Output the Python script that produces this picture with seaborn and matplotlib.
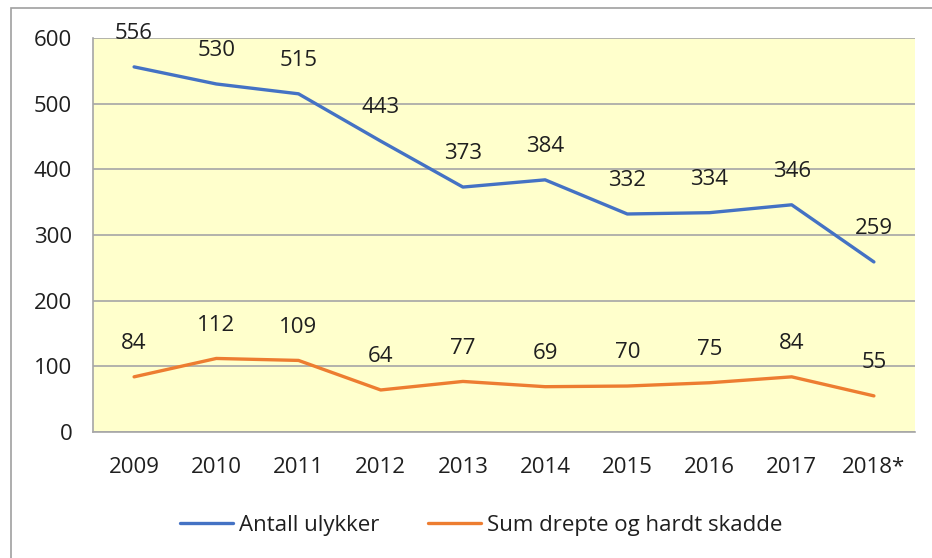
import matplotlib
matplotlib.use("Agg")
import matplotlib.pyplot as plt
import seaborn as sns
import pandas as pd
from matplotlib.patches import Rectangle
from matplotlib.ticker import FixedLocator

years = ["2009", "2010", "2011", "2012", "2013", "2014", "2015", "2016", "2017", "2018*"]
ulykker = [556, 530, 515, 443, 373, 384, 332, 334, 346, 259]
drepte_skadde = [84, 112, 109, 64, 77, 69, 70, 75, 84, 55]
series_names = ["Antall ulykker", "Sum drepte og hardt skadde"]
colors = ["#4472C4", "#ED7D31"]

df = pd.DataFrame({
    "pos": list(range(len(years))) * 2,
    "value": ulykker + drepte_skadde,
    "serie": [series_names[0]] * len(years) + [series_names[1]] * len(years),
})

sns.set_style("white")
plt.rcParams["font.family"] = ["Open Sans", "DejaVu Sans"]
text_col = "#1F1F1F"
grid_col = "#A6A6A6"
fs = 16

fig = plt.figure(figsize=(9.32, 5.58), dpi=100)
ax = fig.add_axes([93 / 932, 1 - 432 / 558, (915 - 93) / 932, (432 - 38) / 558])

# outer chart frame
fig.patches.append(Rectangle((11 / 932, -0.1), 1.0, 1 - 8 / 558 + 0.1,
                             transform=fig.transFigure, fill=False,
                             edgecolor="#A0A0A0", linewidth=1.2))

ax.set_facecolor("#FFFFCC")
sns.lineplot(data=df, x="pos", y="value", hue="serie", palette=colors,
             linewidth=2.4, ax=ax, legend=False)

# data labels
for vals in (ulykker, drepte_skadde):
    for i, v in enumerate(vals):
        ax.annotate(str(v), (i, v), xytext=(0, 24), textcoords="offset points",
                    ha="center", va="center", fontsize=fs, color=text_col)

ax.set_xlim(-0.5, len(years) - 0.5)
ax.set_ylim(0, 600)
ax.set_yticks(range(0, 601, 100))
ax.set_yticklabels([str(t) for t in range(0, 601, 100)], fontsize=fs, color=text_col)
ax.grid(axis="y", color=grid_col, linewidth=1.2)
ax.set_axisbelow(True)

# category axis: ticks between categories, labels at centers
ax.xaxis.set_major_locator(FixedLocator([i - 0.5 for i in range(len(years) + 1)]))
ax.set_xticklabels([])
ax.xaxis.set_minor_locator(FixedLocator(range(len(years))))
ax.set_xticklabels(years, minor=True, fontsize=fs, color=text_col)
ax.tick_params(axis="x", which="major", direction="out", length=7, color=grid_col, width=1.2)
ax.tick_params(axis="x", which="minor", length=0, pad=18)
ax.tick_params(axis="y", direction="out", length=7, color=grid_col, width=1.2, pad=8)
ax.set_xlabel("")
ax.set_ylabel("")

for s in ("top", "right"):
    ax.spines[s].set_visible(False)
for s in ("left", "bottom"):
    ax.spines[s].set_color(grid_col)
    ax.spines[s].set_linewidth(1.2)

handles = [plt.Line2D([], [], color=c, linewidth=2.4) for c in colors]
fig.legend(handles, series_names, loc="center", bbox_to_anchor=(481 / 932, 1 - 525 / 558),
           ncol=2, frameon=False, fontsize=fs, handlelength=2.4, handletextpad=0.25,
           columnspacing=2.2, labelcolor=text_col)

fig.savefig("out.png", dpi=100)
